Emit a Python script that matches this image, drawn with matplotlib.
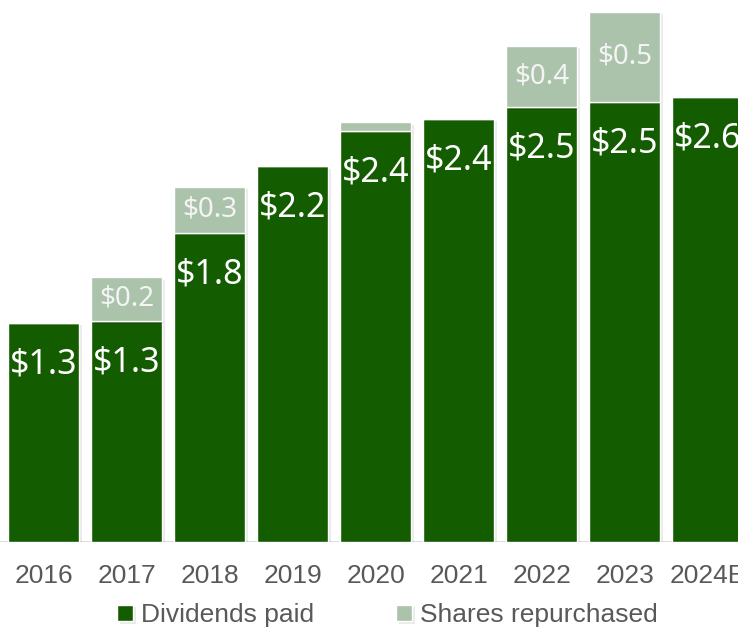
import numpy as np
import matplotlib.pyplot as plt
import matplotlib.patheffects as pe

# Valores (miles de millones USD)
anios = ["2016", "2017", "2018", "2019", "2020", "2021", "2022", "2023", "2024E"]
dividendos = [1.29, 1.30, 1.82, 2.21, 2.42, 2.49, 2.56, 2.59, 2.62]
recompras = [0.0, 0.26, 0.27, 0.0, 0.05, 0.0, 0.36, 0.53, 0.0]
etiquetas_div = ["$1.3", "$1.3", "$1.8", "$2.2", "$2.4", "$2.4", "$2.5", "$2.5", "$2.6"]
etiquetas_rec = ["", "$0.2", "$0.3", "", "", "", "$0.4", "$0.5", ""]

verde = "#135C00"
verde_claro = "#ABC3AB"
gris_texto = "#595959"

fig = plt.figure(figsize=(7.38, 6.31), dpi=100)
ax = fig.add_axes([0, 0.141, 1, 0.859])

x = np.arange(len(anios))
sombra = [pe.SimplePatchShadow(offset=(2, -2), shadow_rgbFace="#000000", alpha=0.08), pe.Normal()]

b1 = ax.bar(x, dividendos, width=0.855, color=verde, edgecolor="white", linewidth=1.0,
            path_effects=sombra, zorder=2)
b2 = ax.bar(x, recompras, width=0.855, bottom=dividendos, color=verde_claro,
            edgecolor="white", linewidth=1.0, path_effects=sombra, zorder=2)

# Etiquetas dentro de las barras
for i in range(len(anios)):
    ax.annotate(etiquetas_div[i], (x[i], dividendos[i]), xytext=(0, -30),
                textcoords="offset points", ha="center", va="center",
                color="white", fontsize=24.5, family="Noto Sans", zorder=3)
    if etiquetas_rec[i]:
        ax.text(x[i], dividendos[i] + recompras[i] / 2, etiquetas_rec[i],
                ha="center", va="center", color="#F4F4F4", fontsize=20,
                family="Noto Sans", zorder=3)

ax.axhline(0, color="#D9D9D9", linewidth=2, zorder=1)

ax.set_xlim(-0.528, 8.364)
ax.set_ylim(0, 542 / 170)
ax.set_xticks(x)
ax.set_xticklabels(anios, fontsize=19, color=gris_texto, family="Liberation Sans")
ax.tick_params(axis="x", length=0, pad=16)
ax.set_yticks([])
for s in ax.spines.values():
    s.set_visible(False)

leg = fig.legend([b1, b2], ["Dividends paid", "Shares repurchased"], loc="center",
                 bbox_to_anchor=(0.525, 0.025), ncol=2, frameon=False,
                 prop={"family": "Liberation Sans", "size": 19}, handlelength=0.6,
                 handleheight=0.6, handletextpad=0.3, columnspacing=3.1)
for t in leg.get_texts():
    t.set_color(gris_texto)

fig.savefig("out.png", dpi=100)
